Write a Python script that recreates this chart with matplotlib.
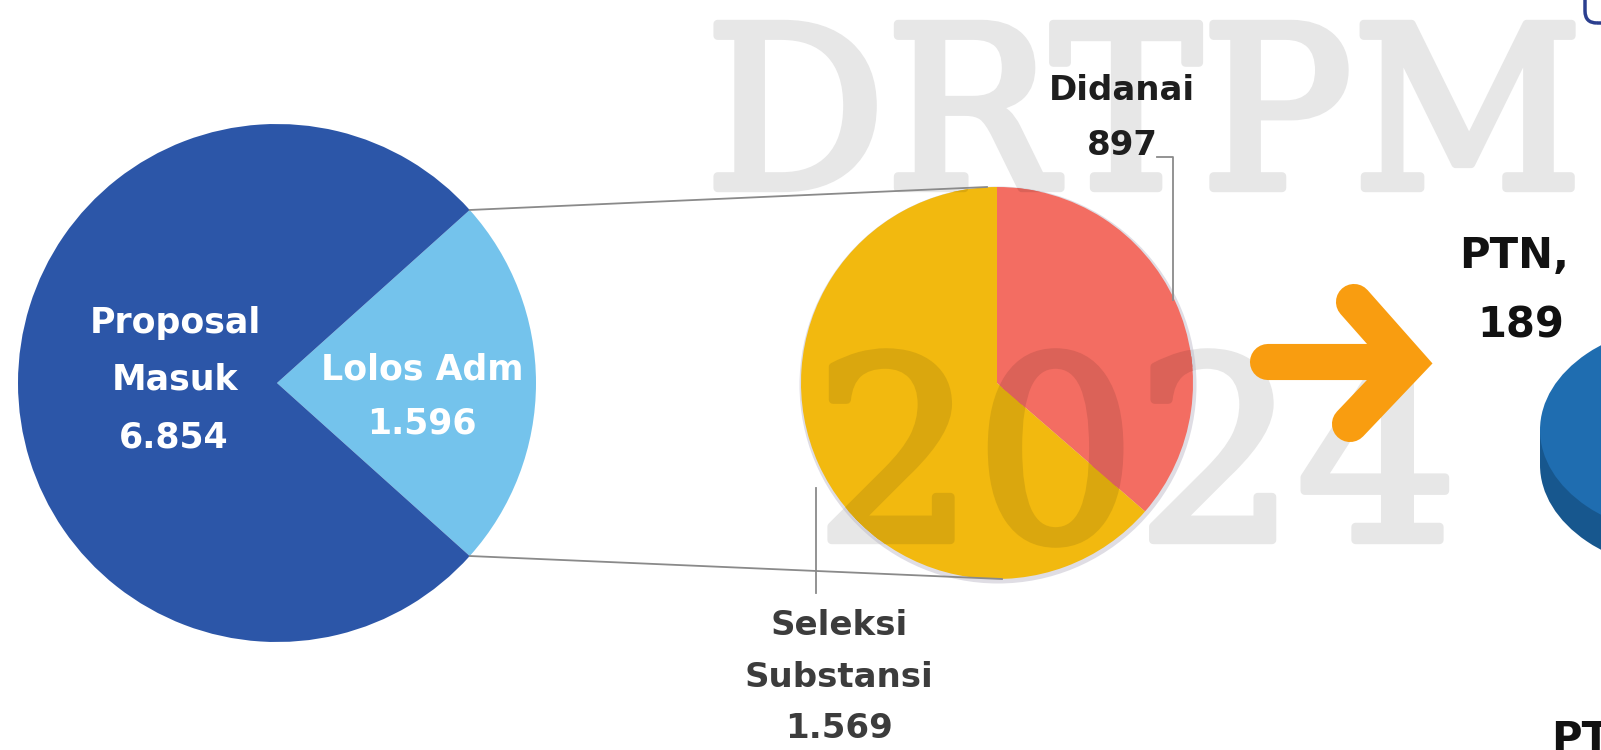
import math
import matplotlib
matplotlib.use("Agg")
import matplotlib.pyplot as plt
from matplotlib.patches import Ellipse, Rectangle, FancyBboxPatch, Circle
import matplotlib.patheffects as pe

# ---- data ----
main_labels = ["Proposal\nMasuk", "Lolos Adm"]
proposal_masuk = 6854
lolos_adm = 1596
sub_labels = ["Didanai", "Seleksi\nSubstansi"]
didanai = 897
seleksi_substansi = 1569
ptn_label = "PTN,"
ptn_value = 189
pts_label = "PT"
watermark = ["DRTPM", "2024"]

def fmt(v):
    return f"{v:,}".replace(",", ".")

W, H = 1601, 750
def Y(py):
    return H - py

fig = plt.figure(figsize=(W / 100, H / 100), dpi=100)
ax = fig.add_axes([0, 0, 1, 1])

FONT = "DejaVu Sans"
c_dark = "#2C56A8"
c_light = "#74C3EC"
c_yellow = "#F2B90F"
c_red = "#F36D62"
c_orange = "#F99D10"

# ---- left pie ----
lc = (277, Y(383)); lr = 259
half = 180.0 * lolos_adm / proposal_masuk
lw_, _ = ax.pie([lolos_adm, proposal_masuk - lolos_adm], colors=[c_light, c_dark],
                startangle=-half, counterclock=True, center=lc, radius=lr,
                wedgeprops=dict(linewidth=0, zorder=2))

# ---- right pie ----
rc = (997, Y(383)); rr = 196
ax.add_patch(Circle((rc[0] + 1, rc[1] - 2), rr + 2.5, color="#b8b4c4", alpha=0.45, lw=0, zorder=1.5))
rw, _ = ax.pie([didanai, seleksi_substansi], colors=[c_red, c_yellow],
               startangle=90, counterclock=False, center=rc, radius=rr,
               wedgeprops=dict(linewidth=0, zorder=2))

# ---- watermark (light grey on white, tinted copies clipped to the wedges) ----
wm_specs = [(watermark[0], 1144, 188, 162), (watermark[1], 1136, 540, 182)]
tints = [("#E7E7E7", None, 1.0), ("#DAA70E", rw[1], 2.5), ("#DB6258", rw[0], 2.5)]
for col, clip, z in tints:
    for s, x, yb, fs in wm_specs:
        t = ax.text(x, Y(yb), s, family="DejaVu Serif", fontsize=fs,
                    color=col, ha="center", va="baseline", zorder=z,
                    path_effects=[pe.Stroke(linewidth=6, foreground=col), pe.Normal()])
        if clip is not None:
            t.set_clip_on(True)
            t.set_clip_path(clip)

# connector lines
tx = lc[0] + lr * math.cos(math.radians(half))
ty_top = lc[1] + lr * math.sin(math.radians(half))
ty_bot = lc[1] - lr * math.sin(math.radians(half))
ax.plot([tx, rc[0] - 10], [ty_top, rc[1] + rr], color="#8a8a8a", lw=1.3, zorder=3)
ax.plot([tx, rc[0] + 5], [ty_bot, rc[1] - rr], color="#8a8a8a", lw=1.3, zorder=3)

# leader lines
ax.plot([1157, 1173, 1173], [Y(157), Y(157), Y(300)], color="#8a8a8a", lw=1.3, zorder=3)
ax.plot([816, 816], [Y(488), Y(593)], color="#8a8a8a", lw=1.3, zorder=3)

# ---- arrow ----
alw = 26
ax.plot([1268, 1402], [Y(362), Y(362)], color=c_orange, lw=alw,
        solid_capstyle="round", zorder=4)
ax.plot([1354, 1408, 1350], [Y(302), Y(363), Y(424)], color=c_orange, lw=alw,
        solid_capstyle="round", solid_joinstyle="miter", zorder=4)

# ---- partial 3D pie on the right ----
ax.add_patch(Ellipse((1700, Y(465)), 320, 216, color="#17578E", lw=0, zorder=2))
ax.add_patch(Rectangle((1540, Y(465)), 320, 35, color="#17578E", lw=0, zorder=2))
ax.add_patch(Ellipse((1700, Y(430)), 320, 216, color="#1F6DB0", lw=0, zorder=2.1))

# top-right icon fragment
ax.add_patch(FancyBboxPatch((1585, Y(23)), 60, 55, boxstyle="round,pad=0,rounding_size=12",
                            fill=False, edgecolor="#2B3F8F", lw=2.5, zorder=3))

# ---- labels ----
wkw = dict(family=FONT, weight="bold", fontsize=25, color="white", ha="center",
           va="baseline", zorder=6)
ml = main_labels[0].split("\n")
ax.text(175, Y(333), ml[0], **wkw)
ax.text(175, Y(390), ml[1], **wkw)
ax.text(174, Y(447), fmt(proposal_masuk), **wkw)
ax.text(422, Y(380), main_labels[1], **wkw)
ax.text(422, Y(433), fmt(lolos_adm), **wkw)

bkw = dict(family=FONT, weight="bold", fontsize=24.5, color="#1e1e1e", ha="center",
           va="baseline", zorder=6)
ax.text(1122, Y(100), sub_labels[0], **bkw)
ax.text(1122, Y(155), fmt(didanai), **bkw)
sl = sub_labels[1].split("\n")
gkw = {**bkw, "color": "#3c3c3c"}
ax.text(839, Y(635), sl[0], **gkw)
ax.text(839, Y(687), sl[1], **gkw)
ax.text(839, Y(738), fmt(seleksi_substansi), **gkw)

pkw = dict(family=FONT, weight="bold", fontsize=30, color="#111111", ha="left",
           va="baseline", zorder=6)
ax.text(1459, Y(268), ptn_label, **pkw)
ax.text(1477, Y(337), str(ptn_value), **pkw)
ax.text(1551, Y(752), pts_label, **pkw)

ax.set_xlim(0, W)
ax.set_ylim(0, H)
ax.set_aspect("auto")
ax.axis("off")
fig.savefig("out.png", dpi=100, facecolor="white")
